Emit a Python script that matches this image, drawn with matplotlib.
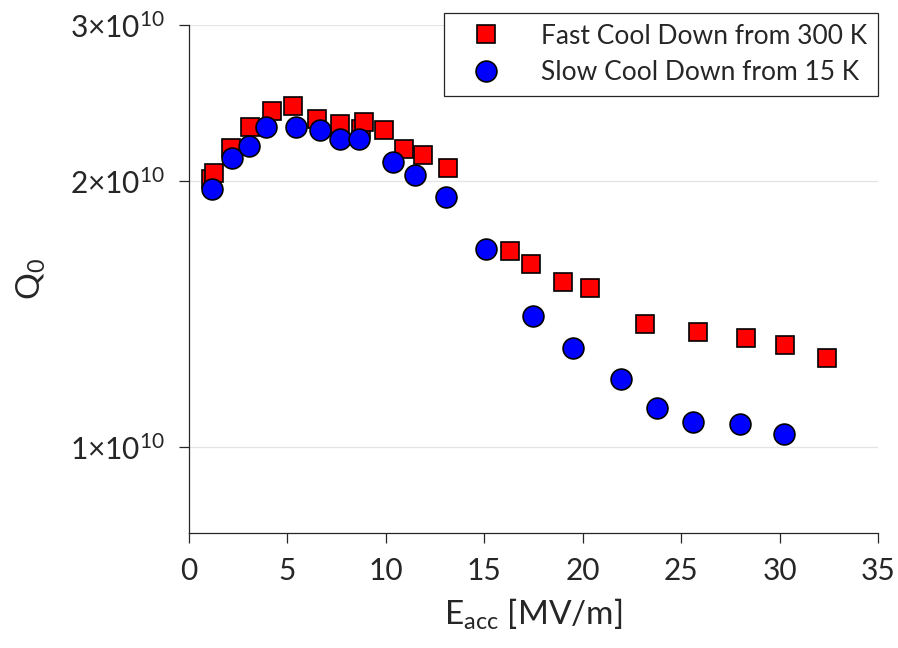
import matplotlib
matplotlib.use("Agg")
import matplotlib.pyplot as plt
from matplotlib.ticker import FixedLocator, FuncFormatter, NullLocator

plt.rcParams['font.family'] = ['Lato', 'DejaVu Sans']
plt.rcParams['mathtext.fontset'] = 'custom'
plt.rcParams['mathtext.rm'] = 'Lato'
plt.rcParams['mathtext.it'] = 'Lato'

# Fast cool down from 300 K
fast_eacc = [1.12, 1.25, 2.13, 3.10, 4.22, 5.30, 6.50, 7.65, 8.74, 8.90,
             9.90, 10.92, 11.90, 13.15, 16.30, 17.37, 19.01, 20.38,
             23.17, 25.87, 28.32, 30.29, 32.42]
fast_q0 = [2.01e10, 2.04e10, 2.18e10, 2.30e10, 2.40e10, 2.43e10, 2.35e10,
           2.32e10, 2.29e10, 2.33e10, 2.28e10, 2.17e10, 2.14e10, 2.07e10,
           1.665e10, 1.611e10, 1.538e10, 1.512e10, 1.377e10, 1.350e10,
           1.328e10, 1.305e10, 1.261e10]

# Slow cool down from 15 K
slow_eacc = [1.17, 2.18, 3.05, 3.91, 5.43, 6.65, 7.67, 8.63, 10.36, 11.48,
             13.05, 15.08, 17.45, 19.49, 21.94, 23.75, 25.61, 27.98, 30.22]
slow_q0 = [1.96e10, 2.12e10, 2.19e10, 2.30e10, 2.30e10, 2.28e10, 2.23e10,
           2.23e10, 2.10e10, 2.03e10, 1.92e10, 1.673e10, 1.408e10, 1.295e10,
           1.195e10, 1.108e10, 1.067e10, 1.063e10, 1.036e10]

x_ticks = [0, 5, 10, 15, 20, 25, 30, 35]
y_ticks = [1e10, 2e10, 3e10]

fig = plt.figure(figsize=(8.98, 6.48), dpi=100)
ax = fig.add_axes([0.2105, 0.1775, 0.7672, 0.7839])

ax.plot(fast_eacc, fast_q0, linestyle='none', marker='s', ms=12.5,
        mfc='#ff0000', mec='black', mew=1.2,
        label='Fast Cool Down from 300 K', zorder=3)
ax.plot(slow_eacc, slow_q0, linestyle='none', marker='o', ms=15,
        mfc='#0000ff', mec='black', mew=1.2,
        label='Slow Cool Down from 15 K', zorder=4)

ax.set_yscale('log')
ax.set_xlim(0, 35)
ax.set_ylim(8e9, 3e10)
ax.xaxis.set_major_locator(FixedLocator(x_ticks))
ax.yaxis.set_major_locator(FixedLocator(y_ticks))
ax.yaxis.set_minor_locator(NullLocator())
ax.yaxis.set_major_formatter(FuncFormatter(
    lambda v, p: r'$\mathregular{%d{\times}10^{10}}$' % round(v / 1e10)))

ax.grid(axis='y', color='#e3e3e3', linewidth=0.9, zorder=0)
ax.set_axisbelow(True)

for side in ('top', 'right'):
    ax.spines[side].set_visible(False)
for side in ('left', 'bottom'):
    ax.spines[side].set_color('#262626')
    ax.spines[side].set_linewidth(0.9)

ax.tick_params(axis='both', direction='out', length=7, width=0.9,
               colors='#262626', labelsize=21.5, pad=10)

ax.set_xlabel(r'$\mathregular{E_{acc}}$ [MV/m]', fontsize=24,
              color='#262626', labelpad=9)
ax.set_ylabel(r'$\mathregular{Q_0}$', fontsize=24, color='#262626',
              labelpad=16)

leg = ax.legend(loc='upper right', bbox_to_anchor=(0.9777, 0.98),
                bbox_transform=fig.transFigure, fontsize=19,
                frameon=True, fancybox=False, edgecolor='#262626',
                framealpha=1, borderpad=0.4, handletextpad=0.9,
                labelspacing=0.45, handlelength=2.4, borderaxespad=0)
leg.get_frame().set_linewidth(0.9)
for t in leg.get_texts():
    t.set_color('#262626')

fig.savefig('out.png', dpi=100)
